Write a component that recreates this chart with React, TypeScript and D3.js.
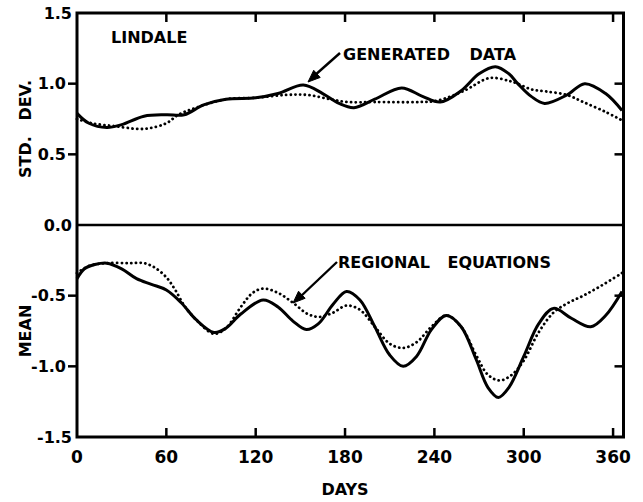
import React from "react";
import * as d3 from "d3";

// Axis ticks
const DAY_TICKS = [0, 60, 120, 180, 240, 300, 360];
const VALUE_TICKS = [1.5, 1.0, 0.5, 0.0, -0.5, -1.0, -1.5];
const INNER_TICKS = [1.0, 0.5, -0.5, -1.0];

// Standard deviation, generated data (solid)
const stdGenDays = [0, 8, 20, 30, 45, 60, 72, 85, 100, 120, 135, 152, 165, 176, 186, 200, 218, 232, 244, 258, 270, 281, 290, 296, 305, 314, 329, 341, 355, 366];
const stdGenValues = [0.79, 0.72, 0.69, 0.71, 0.77, 0.78, 0.78, 0.85, 0.89, 0.9, 0.93, 0.99, 0.93, 0.86, 0.83, 0.89, 0.97, 0.91, 0.87, 0.95, 1.07, 1.12, 1.07, 1.0, 0.91, 0.86, 0.92, 1.0, 0.93, 0.81];

// Standard deviation, regional equations (dotted)
const stdRegDays = [0, 10, 25, 45, 60, 68, 80, 100, 120, 140, 155, 170, 182, 200, 230, 242, 260, 277, 290, 296, 305, 315, 329, 340, 355, 366];
const stdRegValues = [0.75, 0.72, 0.7, 0.68, 0.72, 0.78, 0.83, 0.89, 0.9, 0.92, 0.92, 0.89, 0.87, 0.87, 0.87, 0.88, 0.95, 1.04, 1.02, 1.0, 0.96, 0.945, 0.92, 0.87, 0.8, 0.74];

// Mean, generated data (solid)
const meanGenDays = [0, 5, 12, 20, 30, 40, 50, 60, 70, 80, 92, 100, 110, 125, 135, 145, 154, 162, 172, 181, 190, 200, 210, 219, 228, 238, 248, 258, 268, 276, 283, 290, 300, 310, 320, 332, 345, 355, 366];
const meanGenValues = [-0.38, -0.31, -0.28, -0.27, -0.31, -0.38, -0.42, -0.46, -0.55, -0.67, -0.76, -0.73, -0.63, -0.53, -0.58, -0.68, -0.74, -0.7, -0.56, -0.47, -0.53, -0.72, -0.92, -1.0, -0.93, -0.74, -0.64, -0.72, -0.95, -1.15, -1.22, -1.15, -0.93, -0.7, -0.59, -0.66, -0.72, -0.64, -0.47];

// Mean, regional equations (dotted)
const meanRegDays = [0, 8, 20, 35, 45, 52, 60, 66, 72, 80, 92, 100, 110, 118, 125, 135, 145, 155, 163, 172, 181, 190, 200, 210, 219, 228, 238, 248, 258, 268, 276, 284, 292, 300, 310, 320, 330, 340, 352, 366];
const meanRegValues = [-0.34, -0.29, -0.27, -0.27, -0.27, -0.3, -0.37, -0.46, -0.57, -0.67, -0.77, -0.73, -0.58, -0.48, -0.45, -0.48, -0.55, -0.63, -0.65, -0.62, -0.57, -0.6, -0.72, -0.84, -0.87, -0.83, -0.72, -0.64, -0.72, -0.92, -1.06, -1.1, -1.06, -0.96, -0.76, -0.62, -0.55, -0.5, -0.43, -0.34];

const FONT = "'DejaVu Sans', sans-serif";

const pairs = (days: number[], vals: number[]) => days.map((d, i) => [d, vals[i]] as [number, number]);

export default function App() {
  const width = 643;
  const height = 502;
  const x = d3.scaleLinear().domain([0, 367]).range([77, 623.5]);
  const y = d3.scaleLinear().domain([-1.5, 1.5]).range([437, 13]);

  const line = d3
    .line<[number, number]>()
    .x((p) => x(p[0]))
    .y((p) => y(p[1]))
    .curve(d3.curveCatmullRom.alpha(0.5));

  const left = x(0);
  const right = x(367);
  const top = y(1.5);
  const bottom = y(-1.5);
  const mid = y(0);

  const arrowHead = (tx: number, ty: number, fx: number, fy: number) => {
    const ang = Math.atan2(fy - ty, fx - tx);
    const len = 13;
    const half = 0.38;
    const p1 = [tx + len * Math.cos(ang - half), ty + len * Math.sin(ang - half)];
    const p2 = [tx + len * Math.cos(ang + half), ty + len * Math.sin(ang + half)];
    return `M${tx},${ty}L${p1[0]},${p1[1]}L${p2[0]},${p2[1]}Z`;
  };

  return (
    <svg
      width={width}
      height={height}
      style={{ position: "absolute", left: 0, top: 0, background: "#fff" }}
      fontFamily={FONT}
      fontWeight="bold"
    >
      <rect x={0} y={0} width={width} height={height} fill="#fff" />

      {/* curves */}
      <g fill="none" stroke="#000">
        <path d={line(pairs(stdGenDays, stdGenValues)) || ""} strokeWidth={3} />
        <path
          d={line(pairs(stdRegDays, stdRegValues)) || ""}
          strokeWidth={2.8}
          strokeDasharray="0.1 4.6"
          strokeLinecap="round"
        />
        <path d={line(pairs(meanGenDays, meanGenValues)) || ""} strokeWidth={3} />
        <path
          d={line(pairs(meanRegDays, meanRegValues)) || ""}
          strokeWidth={2.8}
          strokeDasharray="0.1 4.6"
          strokeLinecap="round"
        />
      </g>

      {/* frame */}
      <g stroke="#000" fill="none">
        <rect x={left} y={top} width={right - left} height={bottom - top} strokeWidth={3} />
        <line x1={left} x2={right} y1={mid} y2={mid} strokeWidth={2.6} />
        {DAY_TICKS.filter((d) => d > 0).map((d) => (
          <g key={d}>
            <line x1={x(d)} x2={x(d)} y1={top} y2={top + 9} strokeWidth={2.5} />
            <line x1={x(d)} x2={x(d)} y1={bottom} y2={bottom - 9} strokeWidth={2.5} />
          </g>
        ))}
        {INNER_TICKS.map((v) => (
          <g key={v}>
            <line x1={left} x2={left - 9} y1={y(v)} y2={y(v)} strokeWidth={2.5} />
            <line x1={right} x2={right - 9} y1={y(v)} y2={y(v)} strokeWidth={2.5} />
          </g>
        ))}
      </g>

      {/* value labels */}
      <g fontSize={16} textAnchor="end" fill="#000">
        {VALUE_TICKS.map((v) => {
          const ticked = INNER_TICKS.includes(v);
          return (
            <text key={v} x={ticked ? left - 11 : left - 5} y={y(v)} dy="0.36em">
              {d3.format(".1f")(v).replace("−", "-")}
            </text>
          );
        })}
      </g>

      {/* day labels */}
      <g fontSize={17} textAnchor="middle" fill="#000">
        {DAY_TICKS.map((d) => (
          <text key={d} x={x(d)} y={463}>
            {d}
          </text>
        ))}
      </g>

      {/* titles */}
      <text x={345} y={495} fontSize={16} textAnchor="middle">DAYS</text>
      <text
        transform={`translate(31,${(top + mid) / 2 + 10}) rotate(-90)`}
        fontSize={16}
        textAnchor="middle"
        wordSpacing={10}
      >
        STD. DEV.
      </text>
      <text transform={`translate(31,331) rotate(-90)`} fontSize={16} textAnchor="middle">
        MEAN
      </text>

      {/* annotations */}
      <text x={111} y={43} fontSize={16}>LINDALE</text>
      <text x={343} y={60} fontSize={16} wordSpacing={14}>GENERATED DATA</text>
      <text x={338} y={268} fontSize={16} wordSpacing={12}>REGIONAL EQUATIONS</text>

      <g stroke="#000" fill="#000">
        <line x1={340} y1={53} x2={314} y2={76} strokeWidth={2.4} />
        <path d={arrowHead(308, 82, 340, 53)} strokeWidth={1} />
        <line x1={337} y1={262} x2={300} y2={297} strokeWidth={2.4} />
        <path d={arrowHead(293, 303, 337, 262)} strokeWidth={1} />
      </g>
    </svg>
  );
}
